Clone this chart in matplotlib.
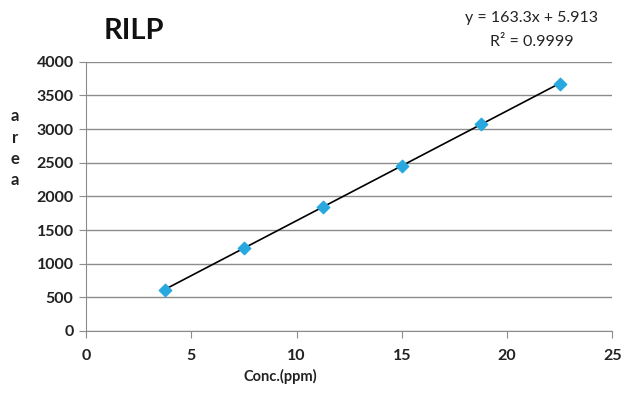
import matplotlib
matplotlib.use("Agg")
from matplotlib import pyplot as plt

# calibration data
conc = [3.75, 7.5, 11.25, 15.0, 18.75, 22.5]
area = [612, 1233, 1840, 2445, 3075, 3672]
x_ticks = [0, 5, 10, 15, 20, 25]
y_ticks = [0, 500, 1000, 1500, 2000, 2500, 3000, 3500, 4000]

# trendline as printed on the chart
slope, intercept = 163.3, 5.913
r_squared = "0.9999"

plt.rcParams["font.family"] = ["Lato", "DejaVu Sans"]

fig = plt.figure(figsize=(6.28, 3.94), dpi=100)
ax = fig.add_axes([0.137, 0.16, 0.838, 0.683])

fit_x = [min(conc), max(conc)]
fit_y = [slope * v + intercept for v in fit_x]
ax.plot(fit_x, fit_y, color="black", lw=1.2, zorder=2)
ax.scatter(conc, area, marker="D", s=40, color="#29a8e0", zorder=3)

ax.set_xlim(0, 25)
ax.set_ylim(0, 4000)
ax.set_xticks(x_ticks)
ax.set_yticks(y_ticks)
ax.yaxis.grid(True, color="#8c8c8c", lw=1)
ax.set_axisbelow(True)
for side in ["top", "right"]:
    ax.spines[side].set_visible(False)
for side in ["left", "bottom"]:
    ax.spines[side].set_color("#8c8c8c")
ax.tick_params(direction="out", length=5, color="#8c8c8c", labelsize=11.5,
               labelcolor="#222222")
ax.tick_params(axis="x", pad=8)
ax.tick_params(axis="y", pad=4)
for lbl in ax.get_xticklabels() + ax.get_yticklabels():
    lbl.set_fontweight("bold")

fig.text(0.446, 0.045, "Conc.(ppm)", fontsize=10.5, fontweight="bold",
         ha="center", va="center", color="#222222")
fig.text(0.024, 0.725, "a\nr\ne\na", fontsize=12, fontweight="bold",
         ha="center", va="top", linespacing=1.4, color="#222222")
fig.text(0.213, 0.922, "RILP", fontsize=21, fontweight="bold", ha="center",
         va="center", color="#111111")
fig.text(0.847, 0.954, f"y = {slope}x + {intercept}", fontsize=11.5,
         ha="center", va="center", color="#222222")
fig.text(0.847, 0.893, f"R² = {r_squared}", fontsize=11.5, ha="center",
         va="center", color="#222222")

plt.savefig("out.png", dpi=100)
